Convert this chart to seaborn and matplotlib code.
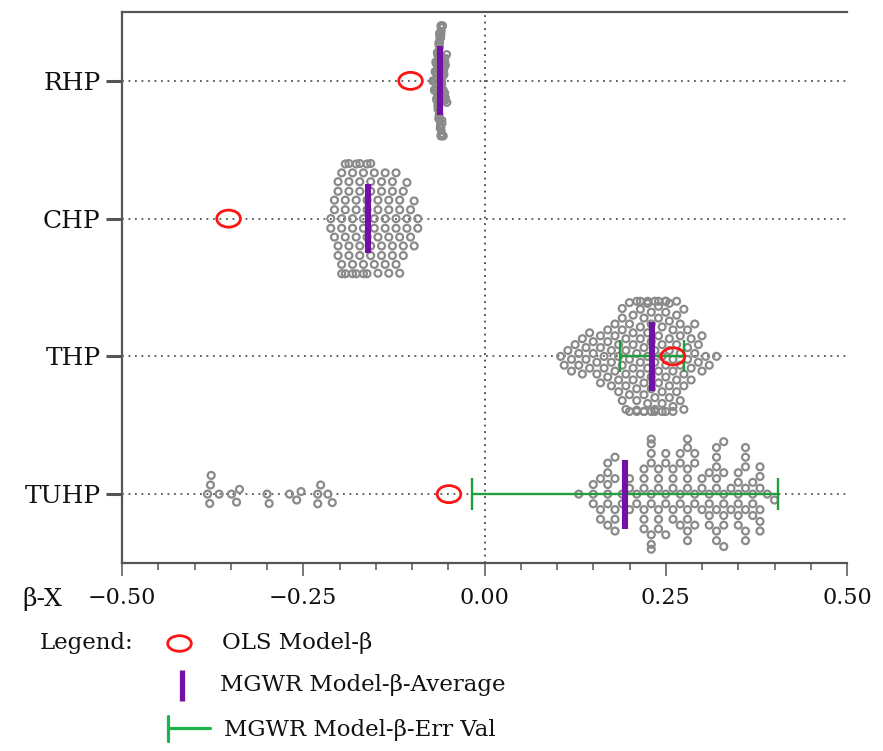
import numpy as np
import pandas as pd
import matplotlib
matplotlib.use("Agg")
import matplotlib.pyplot as plt
from matplotlib.lines import Line2D
from matplotlib.path import Path
from matplotlib.transforms import Affine2D
from matplotlib.ticker import MultipleLocator
import seaborn as sns

# ---------------- data ----------------
categories = ["RHP", "CHP", "THP", "TUHP"]

# local MGWR coefficients, as frequency tables (value, count)
rhp_values = [-0.071, -0.070, -0.069, -0.068, -0.067, -0.066, -0.065, -0.064,
              -0.063, -0.062, -0.061, -0.060, -0.059, -0.058, -0.057, -0.056,
              -0.055, -0.054, -0.053, -0.052]
rhp_counts = [2, 3, 4, 5, 6, 7, 7, 8, 8, 8, 8, 8, 8, 7, 7, 6, 5, 4, 3, 2]

chp_values = [-0.212, -0.207, -0.202, -0.197, -0.192, -0.187, -0.182, -0.177,
              -0.172, -0.167, -0.162, -0.157, -0.152, -0.147, -0.142, -0.137,
              -0.132, -0.127, -0.122, -0.117, -0.112, -0.107, -0.102, -0.097,
              -0.092]
chp_counts = [2, 3, 4, 5, 5, 5, 5, 5, 5, 5, 5, 5, 4, 4, 4, 4, 4, 4, 4, 4,
              3, 3, 2, 2, 2]

thp_values = [0.105, 0.110, 0.115, 0.120, 0.125, 0.130, 0.135, 0.140, 0.145,
              0.150, 0.155, 0.160, 0.165, 0.170, 0.175, 0.180, 0.185, 0.190,
              0.195, 0.200, 0.205, 0.210, 0.215, 0.220, 0.225, 0.230, 0.235,
              0.240, 0.245, 0.250, 0.255, 0.260, 0.265, 0.270, 0.275, 0.280,
              0.285, 0.290, 0.295, 0.300, 0.305, 0.310, 0.320]
thp_counts = [1, 1, 1, 2, 1, 2, 2, 2, 2, 2, 2, 3, 2, 3, 3, 3, 4, 5, 5, 5, 5,
              6, 6, 6, 6, 6, 6, 6, 6, 6, 6, 5, 5, 5, 4, 3, 3, 2, 2, 2, 1, 1, 1]

tuhp_values = [-0.382, -0.379, -0.378, -0.377, -0.366, -0.349, -0.342, -0.338,
               -0.300, -0.297, -0.269, -0.259, -0.253, -0.230, -0.226, -0.216,
               -0.210,
               0.13, 0.15, 0.16, 0.17, 0.18, 0.19, 0.20, 0.21, 0.22, 0.23,
               0.24, 0.25, 0.26, 0.27, 0.28, 0.29, 0.30, 0.31, 0.32, 0.33,
               0.34, 0.35, 0.36, 0.37, 0.38, 0.39, 0.40]
tuhp_counts = [1, 1, 1, 1, 1, 1, 1, 1, 1, 1, 1, 1, 1, 2, 1, 1, 1,
               1, 3, 3, 6, 5, 2, 3, 2, 6, 9, 6, 5, 5, 5, 9, 5, 3, 5, 8, 7,
               2, 6, 7, 4, 6, 1, 1]

ols_beta = [-0.102, -0.353, 0.260, -0.049]
mgwr_mean = [-0.061, -0.161, 0.231, 0.194]
mgwr_err_cats = ["THP", "TUHP"]
mgwr_err = [0.044, 0.211]

xtick_values = [-0.50, -0.25, 0.00, 0.25, 0.50]
xtick_labels = ["\u22120.50", "\u22120.25", "0.00", "0.25", "0.50"]

legend_labels = ["OLS Model-\u03b2", "MGWR Model-\u03b2-Average",
                 "MGWR Model-\u03b2-Err Val"]

# the RHP points pile on top of each other in the original: swarm them in
# interleaved layers (each layer its own marker size) that overlap
layers = {"RHP": 6, "CHP": 1, "THP": 1, "TUHP": 1}
layer_sizes = [5.0, 4.6, 4.2, 3.8, 3.4, 3.0]

# ---------------- build table ----------------
tables = {"RHP": (rhp_values, rhp_counts), "CHP": (chp_values, chp_counts),
          "THP": (thp_values, thp_counts), "TUHP": (tuhp_values, tuhp_counts)}
frames = []
for cat in categories:
    v, c = tables[cat]
    vals = np.repeat(v, c)
    frames.append(pd.DataFrame({"beta": vals, "variable": cat,
                                "layer": np.arange(len(vals)) % layers[cat]}))
df = pd.concat(frames, ignore_index=True)

# ---------------- style ----------------
sns.set_theme(style="ticks")
plt.rcParams["font.family"] = ["DejaVu Serif"]
plt.rcParams["axes.unicode_minus"] = True

W, H = 883, 751
fig = plt.figure(figsize=(W / 100, H / 100), dpi=100)
fig.patch.set_facecolor("white")
ax = fig.add_axes([122 / W, 1 - 563 / H, (847 - 122) / W, (563 - 12) / H])
ax.set_facecolor("white")

GREY = "#8a8a8a"
PURPLE = "#7211a3"
GREEN = "#1f9e3c"
RED = "#ff1414"
AXC = "#555555"
DOT = (0, (1, 2.6))

for layer in sorted(df["layer"].unique()):
    sub = df[df["layer"] == layer]
    sns.swarmplot(data=sub, x="beta", y="variable", order=categories,
                  orient="h", size=layer_sizes[layer], color=GREY,
                  facecolors="none", edgecolor=GREY, linewidth=1.6,
                  warn_thresh=1, ax=ax, zorder=3)

ax.set_xlim(-0.5, 0.5)
ax.set_ylim(3.5, -0.5)
pos = {c: i for i, c in enumerate(categories)}

for c in categories:
    ax.axhline(pos[c], color=AXC, linestyle=DOT, linewidth=1.3, zorder=1)
ax.axvline(0, color="#444444", linestyle=DOT, linewidth=1.3, zorder=1)

# error bars (mean +/- err)
err_x = [mgwr_mean[pos[c]] for c in mgwr_err_cats]
err_y = [pos[c] for c in mgwr_err_cats]
ax.errorbar(err_x, err_y, xerr=mgwr_err, fmt="none", ecolor=GREEN,
            elinewidth=1.7, capsize=11.5, capthick=1.7, zorder=4)

# MGWR averages
ypos = np.array([pos[c] for c in categories], dtype=float)
ax.vlines(mgwr_mean, ypos - 0.25, ypos + 0.25, colors=PURPLE, linewidth=4.4,
          zorder=5)

# OLS betas (slightly oval rings)
ring = Path.unit_circle().transformed(Affine2D().scale(1.0, 0.72))
ax.scatter(ols_beta, ypos, marker=ring, s=290, facecolors="none",
           edgecolors=RED, linewidths=2.0, zorder=6)

# ---------------- axes styling ----------------
ax.spines["right"].set_visible(False)
for s in ["left", "bottom", "top"]:
    ax.spines[s].set_color(AXC)
    ax.spines[s].set_linewidth(1.6)

ax.set_xticks(xtick_values)
ax.set_xticklabels(xtick_labels)
ax.xaxis.set_minor_locator(MultipleLocator(0.05))
ax.tick_params(axis="x", which="major", direction="out", length=9.5,
               width=1.1, color=AXC, labelsize=16, pad=8, labelcolor="#111111")
ax.tick_params(axis="x", which="minor", direction="out", length=5,
               width=1.1, color=AXC)
ax.tick_params(axis="y", which="major", direction="out", length=11.5,
               width=2.2, color=AXC, labelsize=18, pad=4, labelcolor="#111111")
ax.tick_params(axis="y", which="minor", left=False)
ax.set_xlabel("")
ax.set_ylabel("")


def fx(px):
    return px / W


def fy(py):
    return 1 - py / H


fig.text(fx(22), fy(606), "\u03b2-X", ha="left", va="baseline", fontsize=18,
         color="#111111")

# ---------------- legend (drawn by hand) ----------------
LFS = 16.5
fig.text(fx(40), fy(649), "Legend:", ha="left", va="baseline", fontsize=LFS,
         color="#111111")
leg_ring = Path.unit_circle().transformed(Affine2D().scale(1.0, 0.66))
fig.add_artist(Line2D([fx(179)], [fy(643)], marker=leg_ring, markersize=17,
                      markerfacecolor="none", markeredgecolor=RED,
                      markeredgewidth=2.0, linestyle="none",
                      transform=fig.transFigure))
fig.text(fx(222), fy(649), legend_labels[0], ha="left", va="baseline",
         fontsize=LFS, color="#111111")

fig.add_artist(Line2D([fx(181.5), fx(181.5)], [fy(670), fy(701)],
                      color=PURPLE, linewidth=3.8, solid_capstyle="butt",
                      transform=fig.transFigure))
fig.text(fx(220), fy(691), legend_labels[1], ha="left", va="baseline",
         fontsize=LFS, color="#111111")

LG = "#1db34a"
fig.add_artist(Line2D([fx(168), fx(210)], [fy(728), fy(728)], color=LG,
                      linewidth=2.3, transform=fig.transFigure))
fig.add_artist(Line2D([fx(168), fx(168)], [fy(716), fy(741)], color=LG,
                      linewidth=2.3, transform=fig.transFigure))
fig.text(fx(224), fy(736), legend_labels[2], ha="left", va="baseline",
         fontsize=LFS, color="#111111")

fig.savefig("out.png", dpi=100, facecolor="white")
